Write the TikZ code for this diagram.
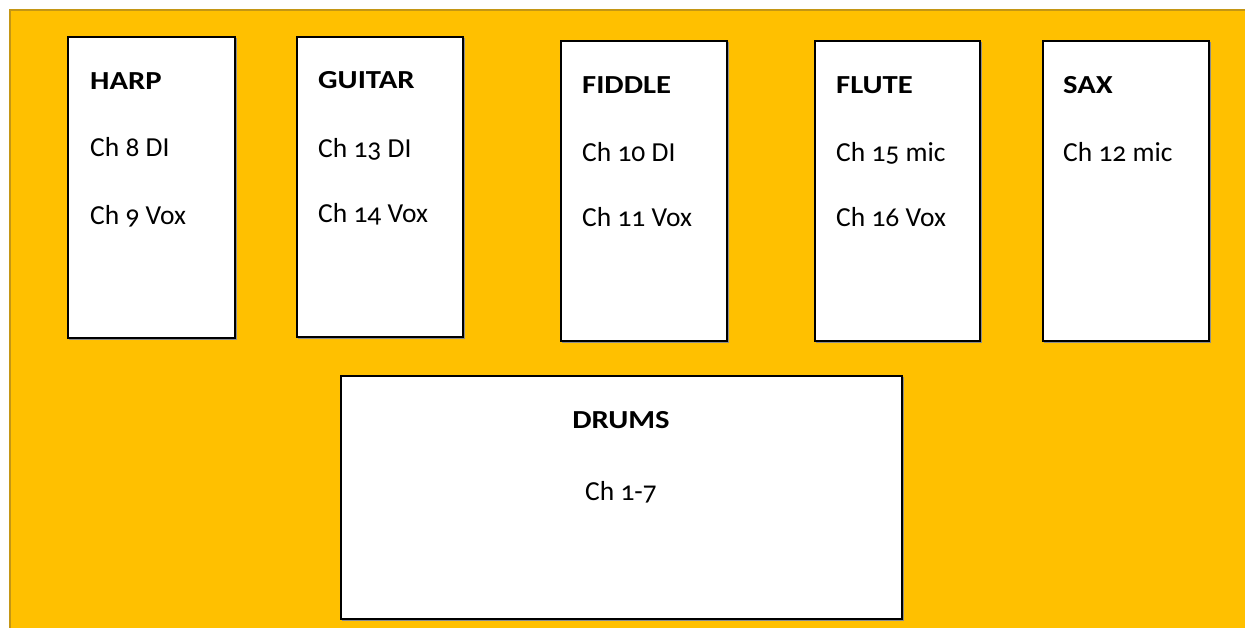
\documentclass[tikz,border=0pt]{standalone}
\usepackage{graphicx}
\usepackage{fontspec}
\setmainfont{Carlito}[Numbers=OldStyle]
\newcommand{\lblwide}[1]{\scalebox{1.18}[1]{#1}}
\definecolor{stagegold}{RGB}{255,192,0}
\definecolor{stageedge}{RGB}{196,150,20}
\begin{document}
\begin{tikzpicture}[x=1pt,y=-1pt,
  box/.style={draw=black,fill=white,line width=1.5pt,
    preaction={draw=black!45,line width=1.5pt,transform canvas={shift={(1.3pt,-1.3pt)}}}},
  lbl/.style={anchor=base west,font=\fontsize{26}{30}\selectfont\bfseries,inner sep=0},
  txt/.style={anchor=base west,font=\fontsize{27.5}{32}\selectfont,inner sep=0}]
\useasboundingbox (0,0) rectangle (1245,627);
\fill[white] (0,0) rectangle (1245,627);
\filldraw[fill=stagegold,draw=stageedge,line width=2.5pt] (10,10) rectangle (1260,640);
% HARP
\draw[box] (68,37) rectangle (235,338);
\node[lbl] (harpL) at (90,89) {\lblwide{HARP}};
\node[txt] (harp1) at (90,156) {Ch 8 DI};
\node[txt] (harp2) at (90,224) {Ch 9 Vox};
% GUITAR
\draw[box] (297,37) rectangle (463,337);
\node[lbl] (guitarL) at (318,88) {\lblwide{GUITAR}};
\node[txt] (guitar1) at (318,157) {Ch 13 DI};
\node[txt] (guitar2) at (318,222) {Ch 14 Vox};
% FIDDLE
\draw[box] (561,41) rectangle (727,341);
\node[lbl] (fiddleL) at (582,93) {\lblwide{FIDDLE}};
\node[txt] (fiddle1) at (582,161) {Ch 10 DI};
\node[txt] (fiddle2) at (582,226) {Ch 11 Vox};
% FLUTE
\draw[box] (815,41) rectangle (980,341);
\node[lbl] (fluteL) at (836,93) {\lblwide{FLUTE}};
\node[txt] (flute1) at (836,161) {Ch 15 mic};
\node[txt] (flute2) at (836,226) {Ch 16 Vox};
% SAX
\draw[box] (1043,41) rectangle (1209,341);
\node[lbl] (saxL) at (1063,93) {\lblwide{SAX}};
\node[txt] (sax1) at (1063,161) {Ch 12 mic};
% DRUMS
\draw[box] (341,376) rectangle (902,619);
\node[lbl,anchor=base] (drumsL) at (621,428) {\lblwide{DRUMS}};
\node[txt,anchor=base] (drums1) at (621,500) {Ch 1-7};
\end{tikzpicture}
\end{document}
